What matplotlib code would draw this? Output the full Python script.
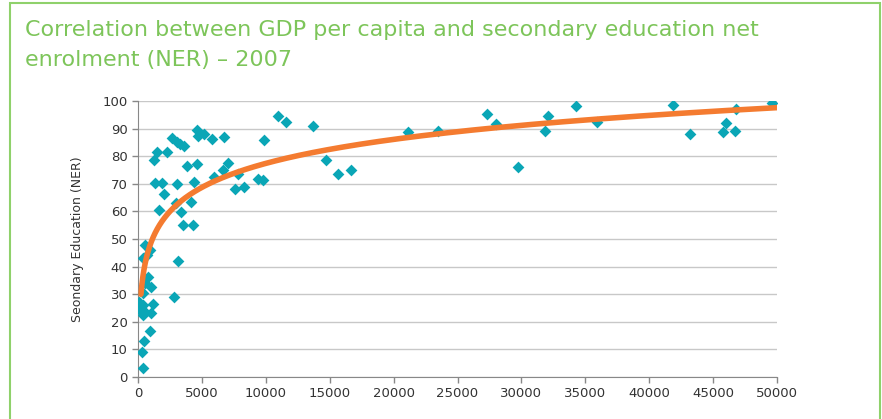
import numpy as np
import matplotlib.pyplot as plt
from matplotlib.patches import Rectangle

# GDP per capita (x) and secondary NER (y)
gdp = [104, 156, 287, 365, 365, 365, 365, 417, 495, 548, 548, 548, 678, 808,
       939, 939, 990, 990, 1200, 1252, 1304, 1512, 1670, 1903, 2060, 2295,
       2634, 2817, 2947, 3025, 3052, 3104, 3287, 3365, 3495, 3626, 3808,
       4147, 4278, 4408, 4592, 4640, 4670, 5165, 5766, 5947, 6677, 6755,
       7016, 7617, 7800, 8294, 9413, 9757, 9860, 10950, 11580, 13720,
       14710, 15670, 16640, 21100, 23500, 27290, 28010, 29760, 31850,
       32060, 34270, 35940, 41840, 43200, 45750, 46010, 46740, 46790, 49630]
ner = [27.3, 24.3, 9.2, 3.1, 22.5, 30.3, 43.0, 26.1, 13.2, 23.7, 33.9, 47.8,
       44.2, 36.3, 46.0, 16.7, 32.7, 23.3, 26.4, 78.5, 70.4, 81.5, 60.5,
       70.2, 66.2, 81.4, 86.5, 29.1, 62.9, 85.0, 70.0, 42.0, 84.3, 59.7,
       55.1, 83.7, 76.6, 63.5, 55.1, 70.8, 77.2, 89.4, 87.4, 87.9, 86.1,
       72.6, 74.9, 86.8, 77.6, 68.1, 73.4, 68.9, 71.7, 71.4, 85.8, 94.5,
       92.4, 90.9, 78.6, 73.6, 75.0, 88.6, 89.0, 95.2, 91.7, 76.2, 89.2,
       94.4, 98.0, 92.5, 98.4, 88.0, 88.9, 91.9, 89.2, 97.0, 99.2]

# log trend line y = a*ln(x) + b, coefficients
trend_a = 12.54
trend_b = -38.1
trend_range = (228, 50000)

xticks = list(range(0, 50001, 5000))
yticks = list(range(0, 101, 10))

fig = plt.figure(figsize=(8.82, 4.19), dpi=100)
ax = fig.add_axes([0.1565, 0.1002, 0.7245, 0.6588])

ax.scatter(gdp, ner, marker='D', s=36, color='#0aa6b6', zorder=3, linewidths=0)

xs = np.geomspace(trend_range[0], trend_range[1], 400)
ax.plot(xs, trend_a * np.log(xs) + trend_b, color='#f47b30', lw=4,
        solid_capstyle='round', zorder=4)

ax.set_xlim(0, 50000)
ax.set_ylim(0, 100)
ax.set_xticks(xticks)
ax.set_yticks(yticks)
ax.tick_params(colors='#888888', labelcolor='#333333', labelsize=9.5, length=4, width=1)
ax.grid(axis='y', color='#c8c8c8', lw=1)
ax.set_axisbelow(True)
for s in ['top', 'right']:
    ax.spines[s].set_visible(False)
for s in ['left', 'bottom']:
    ax.spines[s].set_color('#888888')
ax.set_ylabel('Seondary Education (NER)', fontsize=9, color='#333333', labelpad=13)

fig.text(0.028, 0.914, 'Correlation between GDP per capita and secondary education net',
         fontsize=16, color='#7dc55a', ha='left', va='baseline')
fig.text(0.028, 0.842, 'enrolment (NER) – 2007',
         fontsize=16, color='#7dc55a', ha='left', va='baseline')
fig.patches.append(Rectangle((0.0115, -0.02), 0.986, 1.012, transform=fig.transFigure,
                             fill=False, edgecolor='#8fd16b', lw=1.5))

fig.savefig('out.png', dpi=100)
